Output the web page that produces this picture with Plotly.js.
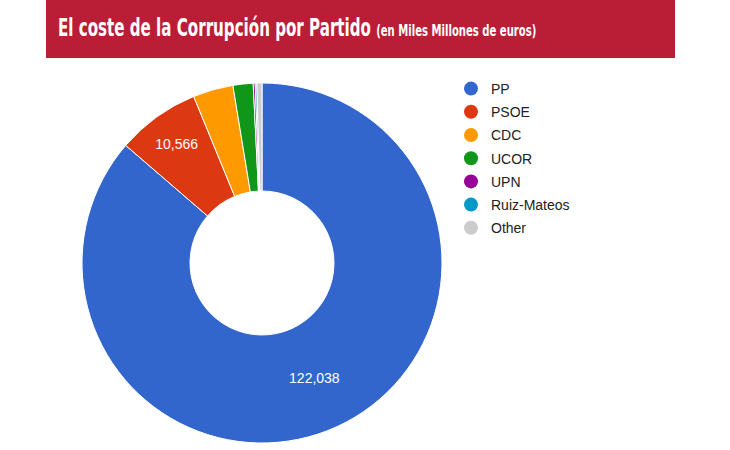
<!DOCTYPE html>
<html>
<head>
<meta charset="utf-8">
<script src="https://cdn.plot.ly/plotly-3.0.1.min.js"></script>
<style>
  html, body { margin: 0; padding: 0; background: #fff; }
  #chart { width: 730px; height: 450px; }
</style>
</head>
<body>
<div id="chart"></div>
<script>
// partidos y coste (miles de millones de euros)
var partidos = ['PP', 'PSOE', 'CDC', 'UCOR', 'UPN', 'Ruiz-Mateos', 'Other'];
var coste = [122038, 10566, 5100, 2550, 255, 200, 650];
var etiquetas = ['122,038', '10,566', '', '', '', '', ''];
var colores = ['#3366CC', '#DC3912', '#FF9900', '#109618', '#990099', '#0099C6', '#CCCCCC'];

var donut = {
  type: 'pie',
  labels: partidos,
  values: coste,
  text: etiquetas,
  textinfo: 'text',
  textposition: 'inside',
  insidetextorientation: 'horizontal',
  insidetextfont: {family: 'Liberation Sans, Arial, sans-serif', size: 14, color: '#fff'},
  hole: 0.4,
  sort: false,
  direction: 'clockwise',
  rotation: 0,
  marker: {colors: colores, line: {color: '#fff', width: 1}},
  domain: {x: [82 / 730, 442 / 730], y: [7 / 450, 367 / 450]},
  showlegend: false,
  hoverinfo: 'none'
};

// leyenda con círculos como en el original
var data = [donut];
partidos.forEach(function (p, i) {
  data.push({
    type: 'scatter',
    mode: 'markers',
    x: [null],
    y: [null],
    name: p,
    legendgroup: 'g' + i,
    marker: {symbol: 'circle', size: 14, color: colores[i]},
    hoverinfo: 'none'
  });
});

var layout = {
  width: 730,
  height: 450,
  margin: {l: 0, r: 0, t: 0, b: 0},
  paper_bgcolor: '#fff',
  plot_bgcolor: '#fff',
  xaxis: {visible: false},
  yaxis: {visible: false},
  title: {
    text: 'El coste de la Corrupción por Partido <span style="font-size:16px">(en Miles Millones de euros)</span>',
    font: {family: 'DejaVu Sans Condensed, sans-serif', size: 24, color: '#fff', weight: 'bold'},
    x: 58 / 730,
    xanchor: 'left',
    xref: 'paper',
    y: 1 - 28 / 450,
    yanchor: 'middle',
    yref: 'container'
  },
  shapes: [{
    type: 'rect',
    xref: 'paper', yref: 'paper',
    x0: 46 / 730, x1: 675 / 730,
    y0: 1 - 58 / 450, y1: 1,
    fillcolor: '#BA1E36',
    line: {width: 0},
    layer: 'below'
  }],
  showlegend: true,
  legend: {
    x: 451 / 730,
    y: 1 - 73 / 450,
    xanchor: 'left',
    yanchor: 'top',
    traceorder: 'grouped',
    tracegroupgap: 2,
    font: {family: 'Liberation Sans, Arial, sans-serif', size: 14, color: '#222'},
    bgcolor: 'rgba(0,0,0,0)'
  }
};

Plotly.newPlot('chart', data, layout, {displayModeBar: false, staticPlot: true}).then(function (gd) {
  // estrechar el título para imitar la fuente condensada del original
  var t = gd.querySelector('.gtitle');
  if (t) {
    var s = 0.7;
    var x0 = parseFloat(t.getAttribute('x')) || 58;
    t.setAttribute('transform', 'translate(' + (x0 * (1 - s)) + ',0) scale(' + s + ',1)');
  }
});
</script>
</body>
</html>
